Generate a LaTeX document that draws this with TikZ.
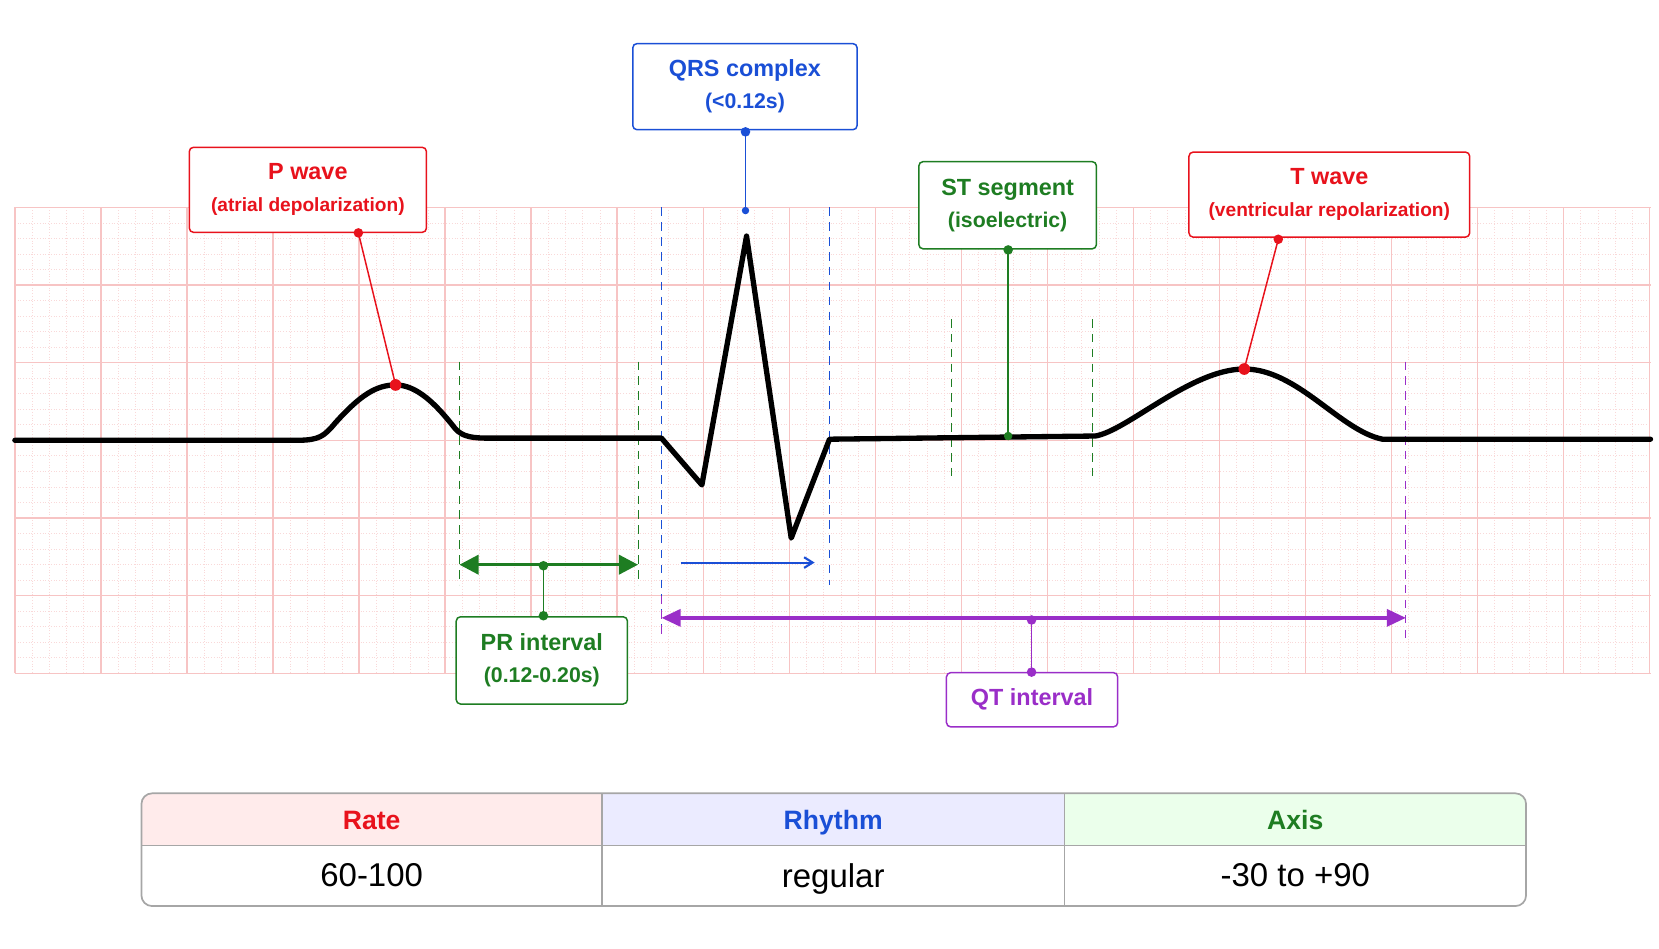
\documentclass[tikz,border=0pt]{standalone}
\usepackage{fontspec}
\setmainfont{Liberation Sans}
\usetikzlibrary{arrows.meta}
\definecolor{cr}{HTML}{E8121C}
\definecolor{cb}{HTML}{1A4FD6}
\definecolor{cg}{HTML}{1E7D22}
\definecolor{cp}{HTML}{9A2EC8}
\definecolor{gmaj}{HTML}{F7C4C4}
\definecolor{gmin}{HTML}{F9D9D9}
\begin{document}
\begin{tikzpicture}[x=0.5pt,y=-0.5pt,
 lbl/.style={draw=#1,text=#1,rounded corners=2pt,line width=0.7pt,fill=white,align=center,inner sep=0pt},
 dot/.style={circle,fill,inner sep=0pt,minimum size=4.5pt},
 dsh/.style={dashed,line width=0.5pt,dash pattern=on 4pt off 3pt},
 hd/.style={text=#1,font=\bfseries\fontsize{12.5}{14}\selectfont,text depth=0pt},
 vl/.style={font=\fontsize{15.5}{18}\selectfont,text depth=0pt}]
\useasboundingbox (0,0) rectangle (1560,892);
% grid
\foreach \i in {0,...,94} \draw[gmin,densely dotted,line width=0.3pt] (14+\i*16.18,195)--(14+\i*16.18,633);
\foreach \j in {0,...,30} \draw[gmin,densely dotted,line width=0.3pt] (14,195+\j*14.6)--(1552,195+\j*14.6);
\foreach \i in {0,...,19} \draw[gmaj,line width=0.6pt] (14+\i*80.9,195)--(14+\i*80.9,633);
\foreach \j in {0,...,6} \draw[gmaj,line width=0.6pt] (14,195+\j*73)--(1552,195+\j*73);
% dashed guides
\draw[cg,dsh] (432,340)--(432,550); \draw[cg,dsh] (600,340)--(600,550);
\draw[cb,dsh] (622,195)--(622,590); \draw[cb,dsh] (780,195)--(780,550);
\draw[cg,dsh] (895,300)--(895,450); \draw[cg,dsh] (1027,300)--(1027,450);
\draw[cp,dsh] (622,560)--(622,600); \draw[cp,dsh] (1322,340)--(1322,600);
% ECG trace
\draw[line width=2.5pt,line join=round,line cap=round] (14,414)--(280,414) .. controls (300,414) and (305,410) .. (315,398)
 .. controls (340,370) and (355,362) .. (372,362) .. controls (392,362) and (410,380) .. (428,403)
 .. controls (435,411) and (445,412) .. (460,412) -- (622,412) -- (660,456) -- (702,222) -- (744,506) -- (780,413)
 -- (1030,410) .. controls (1060,405) and (1120,347) .. (1170,347) .. controls (1220,347) and (1260,405) .. (1300,413)
 -- (1552,413);
% P wave
\node[lbl=cr,minimum width=111.5pt,minimum height=40pt] (pw) at (289.5,178.5) {\textbf{\fontsize{11}{13}\selectfont P wave}\\[3pt]{\fontsize{9}{11}\selectfont\bfseries (atrial depolarization)}};
\coordinate (pp) at (372,362);
\draw[cr,line width=0.7pt] (337,219)--(pp);
\node[dot,cr] at (337,219) {}; \node[dot,cr,minimum size=5.5pt] at (pp) {};
% QRS
\node[lbl=cb,minimum width=105.5pt,minimum height=40.5pt] (qrs) at (700.5,81.5) {\textbf{\fontsize{11}{13}\selectfont QRS complex}\\[3pt]\textbf{\fontsize{10}{12}\selectfont (<0.12s)}};
\coordinate (rp) at (701,198);
\draw[cb,line width=0.7pt] (701,123)--(rp);
\node[dot,cb] at (701,124) {}; \node[dot,cb,minimum size=3.5pt] at (rp) {};
% ST
\node[lbl=cg,minimum width=83.5pt,minimum height=41pt] (st) at (947.5,193) {\textbf{\fontsize{11}{13}\selectfont ST segment}\\[3pt]\textbf{\fontsize{10}{12}\selectfont (isoelectric)}};
\coordinate (sp) at (948,410);
\draw[cg,line width=0.7pt] (948,235)--(sp);
\node[dot,cg] at (948,235) {}; \node[dot,cg,minimum size=4pt] at (sp) {};
% T
\node[lbl=cr,minimum width=132pt,minimum height=40pt] (tw) at (1250,183) {\textbf{\fontsize{11}{13}\selectfont T wave}\\[3pt]{\fontsize{9}{11}\selectfont\bfseries (ventricular repolarization)}};
\coordinate (tp) at (1170,347);
\draw[cr,line width=0.7pt] (1202,225)--(tp);
\node[dot,cr] at (1202,225) {}; \node[dot,cr,minimum size=5.5pt] at (tp) {};
% PR
\coordinate (pra) at (432,531); \coordinate (prb) at (600,531); \coordinate (prm) at (511,532);
\draw[cg,line width=1.6pt,{Triangle[length=9pt,width=9pt]}-{Triangle[length=9pt,width=9pt]}] (pra)--(prb);
\node[lbl=cg,minimum width=80.5pt,minimum height=41pt] (pr) at (509.5,621) {\textbf{\fontsize{11}{13}\selectfont PR interval}\\[3pt]\textbf{\fontsize{10}{12}\selectfont (0.12-0.20s)}};
\draw[cg,line width=0.8pt] (prm)--(511,579);
\node[dot,cg] at (prm) {}; \node[dot,cg] at (511,579) {};
% QRS duration
\coordinate (qa) at (640,529); \coordinate (qb) at (766,529);
\draw[cb,line width=1pt,-{Straight Barb[length=4pt,width=5pt]}] (qa)--(qb);
% QT
\coordinate (qta) at (622,581); \coordinate (qtb) at (1322,581); \coordinate (qtm) at (970,583);
\draw[cp,line width=1.6pt,{Triangle[length=9pt,width=8pt]}-{Triangle[length=9pt,width=8pt]}] (qta)--(qtb);
\node[lbl=cp,minimum width=80.5pt,minimum height=25.5pt] (qt) at (970.5,658) {\textbf{\fontsize{11}{13}\selectfont QT interval}};
\draw[cp,line width=0.8pt] (qtm)--(970,632);
\node[dot,cp] at (qtm) {}; \node[dot,cp] at (970,632) {};
% table
\fill[red!8,rounded corners=5pt] (133,746) rectangle (566,795);
\fill[red!8] (133,770) rectangle (566,795); \fill[red!8] (300,746) rectangle (566,795);
\fill[blue!8] (566,746) rectangle (1001,795);
\fill[green!8,rounded corners=5pt] (1001,746) rectangle (1435,795);
\fill[green!8] (1001,746) rectangle (1300,795); \fill[green!8] (1001,770) rectangle (1435,795);
\draw[gray!70,line width=0.8pt,rounded corners=5pt] (133,746) rectangle (1435,852);
\draw[gray!70,line width=0.8pt] (133,795)--(1435,795) (566,746)--(566,852) (1001,746)--(1001,852);
\node[hd=cr] (h1) at (349.5,771) {Rate};
\node[hd=cb] (h2) at (783.5,771) {Rhythm};
\node[hd=cg] (h3) at (1218,771) {Axis};
\node[vl] (v1) at (349.5,823) {60-100};
\node[vl] (v2) at (783.5,823) {regular};
\node[vl] (v3) at (1218,823) {-30 to +90};
\end{tikzpicture}
\end{document}
